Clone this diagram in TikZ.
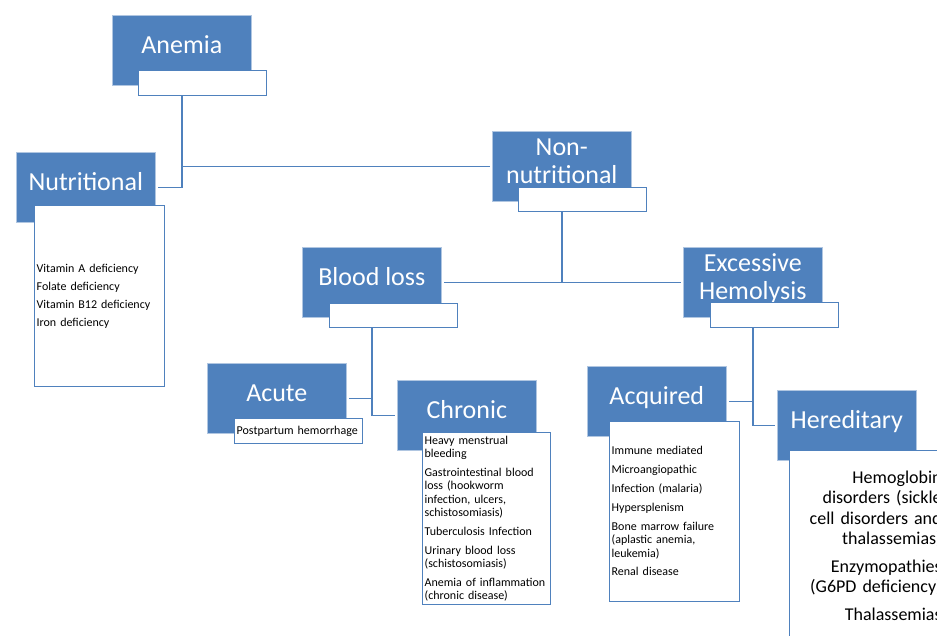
\documentclass[tikz,border=0pt]{standalone}
\usepackage{fontspec}
\setmainfont{Carlito}
\usetikzlibrary{positioning}
\definecolor{hblue}{HTML}{4F81BD}

\begin{document}
\begin{tikzpicture}[x=1pt,y=-1pt,
    catbox/.style={rectangle,fill=hblue,draw=hblue!45!white,line width=0.6pt,text=white,anchor=north west,inner sep=0pt,align=center,minimum width=139pt,minimum height=70pt,font=\fontsize{26}{28}\selectfont,text height=18pt,text depth=12pt},
    twoline/.style={text height=34pt,text depth=0pt},
    descbox/.style={rectangle,draw=hblue,fill=white,line width=1.3pt,inner sep=2pt,align=left,font=\fontsize{12}{13.3}\selectfont},
    link/.style={draw=hblue,line width=1.5pt,shorten >=2pt},
    elbow/.style={to path={|- (\tikztotarget)}}]
    \useasboundingbox (0,0) rectangle (937,635);
    \clip (0,0) rectangle (937,635);

    \node[catbox] (anemia) at (112,15) {Anemia};
    \node[descbox,minimum width=128pt,minimum height=25pt] (anemiad) [below right=55pt and 26pt of anemia.north west] {};

    \node[catbox] (nutri) at (16,152) {Nutritional};
    \node[descbox,text width=126pt,minimum height=181pt,font=\fontsize{12}{18}\selectfont] (nutrid) [below right=53pt and 18pt of nutri.north west]
        {Vitamin A deficiency\\Folate deficiency\\Vitamin B12 deficiency\\Iron deficiency};

    \node[catbox,twoline] (nonnutri) at (492,131) {Non-\\nutritional};
    \node[descbox,minimum width=128pt,minimum height=24.5pt] (nonnutrid) [below right=55.5pt and 26pt of nonnutri.north west] {};

    \node[catbox] (blood) at (302,247) {Blood loss};
    \node[descbox,minimum width=128pt,minimum height=24.5pt] (bloodd) [below right=55.5pt and 27pt of blood.north west] {};

    \node[catbox,twoline] (hemo) at (683,247) {Excessive\\Hemolysis};
    \node[descbox,minimum width=128pt,minimum height=24.5pt] (hemod) [below right=55pt and 27pt of hemo.north west] {};

    \node[catbox] (acute) at (207,363) {Acute};
    \node[descbox,text width=124pt,minimum height=24.5pt] (acuted) [below right=55pt and 27pt of acute.north west] {Postpartum hemorrhage};

    \node[catbox] (chronic) at (397,380) {Chronic};
    \node[descbox,text width=124pt,minimum height=172pt] (chronicd) [below right=52pt and 25pt of chronic.north west]
        {Heavy menstrual\\bleeding\\[5.5pt]Gastrointestinal blood\\loss (hookworm\\infection, ulcers,\\schistosomiasis)\\[5.5pt]Tuberculosis Infection\\[5.5pt]Urinary blood loss\\(schistosomiasis)\\[5.5pt]Anemia of inflammation\\(chronic disease)};

    \node[catbox] (acquired) at (587,366) {Acquired};
    \node[descbox,text width=126pt,minimum height=180pt] (acquiredd) [below right=54.5pt and 22pt of acquired.north west]
        {Immune mediated\\[5.5pt]Microangiopathic\\[5.5pt]Infection (malaria)\\[5.5pt]Hypersplenism\\[6pt]Bone marrow failure\\(aplastic anemia,\\leukemia)\\[5.5pt]Renal disease};

    \node[catbox] (hered) at (777,390) {Hereditary};
    \node[descbox,inner xsep=4pt,text width=148pt,minimum height=190pt,align=right,font=\fontsize{18}{20.5}\selectfont] (heredd) [below right=60pt and 12pt of hered.north west]
        {Hemoglobin\\disorders (sickle\\cell disorders and\\thalassemias)\\[7pt]Enzymopathies\\(G6PD deficiency)\\[7pt]Thalassemias};

    % connectors
    \path[link]
        (anemia.center |- anemiad.south) edge[elbow] (nutri.east)
        (anemia.center |- anemiad.south) edge[elbow] (nonnutri.west)
        (nonnutri.center |- nonnutrid.south) edge[elbow] (blood.east)
        (nonnutri.center |- nonnutrid.south) edge[elbow] (hemo.west)
        (blood.center |- bloodd.south) edge[elbow] (acute.east)
        (blood.center |- bloodd.south) edge[elbow] (chronic.west)
        (hemo.center |- hemod.south) edge[elbow] (acquired.east)
        (hemo.center |- hemod.south) edge[elbow] (hered.west)
        ;
\end{tikzpicture}
\end{document}
